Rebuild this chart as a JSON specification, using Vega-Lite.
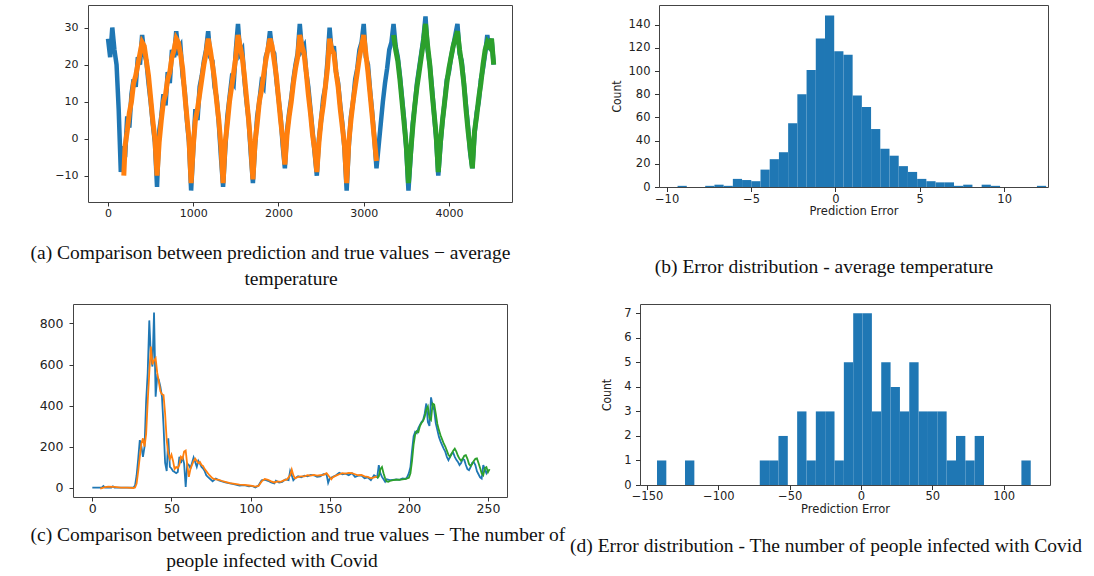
{
  "$schema": "https://vega.github.io/schema/vega-lite/v6.json",
  "background": "white",
  "padding": {"left": 28, "top": 4, "right": 0, "bottom": 0},
  "config": {
    "view": {"stroke": "#444", "strokeWidth": 1},
    "axis": {"grid": false, "domain": false, "tickColor": "#333", "tickSize": 4, "labelColor": "#222", "titleColor": "#222", "labelFont": "DejaVu Sans", "titleFont": "DejaVu Sans", "titleFontWeight": "normal", "labelFlush": false, "labelOverlap": false},
    "title": {"font": "Liberation Serif", "fontSize": 19.5, "fontWeight": "normal", "color": "#111"}
  },
  "datasets": {
    "a_true": [{"t":0,"v":27},{"t":25,"v":22},{"t":50,"v":30},{"t":75,"v":24},{"t":100,"v":20},{"t":125,"v":8},{"t":150,"v":-9},{"t":175,"v":-2},{"t":200,"v":-5},{"t":225,"v":6},{"t":250,"v":3},{"t":275,"v":12},{"t":300,"v":16},{"t":325,"v":14},{"t":350,"v":22},{"t":375,"v":20},{"t":400,"v":28},{"t":425,"v":23},{"t":450,"v":21},{"t":475,"v":15},{"t":500,"v":10},{"t":525,"v":4},{"t":550,"v":-1},{"t":575,"v":-13},{"t":600,"v":2},{"t":625,"v":6},{"t":650,"v":12},{"t":675,"v":9},{"t":700,"v":18},{"t":725,"v":15},{"t":750,"v":24},{"t":775,"v":22},{"t":800,"v":29},{"t":825,"v":24},{"t":850,"v":25},{"t":875,"v":17},{"t":900,"v":13},{"t":925,"v":5},{"t":950,"v":-1},{"t":975,"v":-14},{"t":1000,"v":-3},{"t":1025,"v":8},{"t":1050,"v":5},{"t":1075,"v":14},{"t":1100,"v":17},{"t":1125,"v":21},{"t":1150,"v":24},{"t":1175,"v":29},{"t":1200,"v":22},{"t":1225,"v":21},{"t":1250,"v":14},{"t":1275,"v":11},{"t":1300,"v":4},{"t":1325,"v":-5},{"t":1350,"v":-13},{"t":1375,"v":-3},{"t":1400,"v":6},{"t":1425,"v":11},{"t":1450,"v":16},{"t":1475,"v":15},{"t":1500,"v":24},{"t":1525,"v":31},{"t":1550,"v":23},{"t":1575,"v":24},{"t":1600,"v":16},{"t":1625,"v":10},{"t":1650,"v":5},{"t":1675,"v":-4},{"t":1700,"v":-12},{"t":1725,"v":-2},{"t":1750,"v":6},{"t":1775,"v":10},{"t":1800,"v":15},{"t":1825,"v":14},{"t":1850,"v":22},{"t":1875,"v":24},{"t":1900,"v":29},{"t":1925,"v":24},{"t":1950,"v":23},{"t":1975,"v":16},{"t":2000,"v":11},{"t":2025,"v":6},{"t":2050,"v":-2},{"t":2075,"v":-8},{"t":2100,"v":2},{"t":2125,"v":7},{"t":2150,"v":11},{"t":2175,"v":16},{"t":2200,"v":20},{"t":2225,"v":23},{"t":2250,"v":31},{"t":2275,"v":24},{"t":2300,"v":25},{"t":2325,"v":18},{"t":2350,"v":14},{"t":2375,"v":8},{"t":2400,"v":2},{"t":2425,"v":-4},{"t":2450,"v":-10},{"t":2475,"v":0},{"t":2500,"v":5},{"t":2525,"v":11},{"t":2550,"v":14},{"t":2575,"v":21},{"t":2600,"v":30},{"t":2625,"v":23},{"t":2650,"v":25},{"t":2675,"v":18},{"t":2700,"v":15},{"t":2725,"v":9},{"t":2750,"v":4},{"t":2775,"v":-3},{"t":2800,"v":-14},{"t":2825,"v":-2},{"t":2850,"v":6},{"t":2875,"v":10},{"t":2900,"v":16},{"t":2925,"v":19},{"t":2950,"v":24},{"t":2975,"v":26},{"t":3000,"v":31},{"t":3025,"v":22},{"t":3050,"v":20},{"t":3075,"v":13},{"t":3100,"v":7},{"t":3125,"v":0},{"t":3150,"v":-8},{"t":3175,"v":-2},{"t":3200,"v":4},{"t":3225,"v":10},{"t":3250,"v":15},{"t":3275,"v":19},{"t":3300,"v":24},{"t":3325,"v":26},{"t":3350,"v":31},{"t":3375,"v":25},{"t":3400,"v":22},{"t":3425,"v":17},{"t":3450,"v":11},{"t":3475,"v":5},{"t":3500,"v":-3},{"t":3525,"v":-14},{"t":3550,"v":-5},{"t":3575,"v":4},{"t":3600,"v":9},{"t":3625,"v":15},{"t":3650,"v":19},{"t":3675,"v":23},{"t":3700,"v":27},{"t":3725,"v":33},{"t":3750,"v":24},{"t":3775,"v":20},{"t":3800,"v":14},{"t":3825,"v":7},{"t":3850,"v":0},{"t":3875,"v":-10},{"t":3900,"v":-2},{"t":3925,"v":5},{"t":3950,"v":10},{"t":3975,"v":16},{"t":4000,"v":18},{"t":4025,"v":22},{"t":4050,"v":25},{"t":4075,"v":28},{"t":4100,"v":31},{"t":4125,"v":23},{"t":4150,"v":21},{"t":4175,"v":15},{"t":4200,"v":9},{"t":4225,"v":3},{"t":4250,"v":-4},{"t":4275,"v":-8},{"t":4300,"v":1},{"t":4325,"v":7},{"t":4350,"v":10},{"t":4375,"v":16},{"t":4400,"v":19},{"t":4425,"v":23},{"t":4450,"v":28},{"t":4475,"v":24},{"t":4500,"v":27},{"t":4525,"v":20}],
    "a_train": [{"t":185,"v":-10},{"t":200,"v":-2},{"t":225,"v":2},{"t":250,"v":7},{"t":275,"v":10},{"t":300,"v":15},{"t":325,"v":17},{"t":350,"v":20},{"t":375,"v":23},{"t":400,"v":26},{"t":425,"v":25},{"t":450,"v":21},{"t":475,"v":17},{"t":500,"v":11},{"t":525,"v":5},{"t":550,"v":0},{"t":575,"v":-10},{"t":600,"v":-1},{"t":625,"v":5},{"t":650,"v":10},{"t":675,"v":12},{"t":700,"v":16},{"t":725,"v":18},{"t":750,"v":22},{"t":775,"v":24},{"t":800,"v":27},{"t":825,"v":26},{"t":850,"v":23},{"t":875,"v":19},{"t":900,"v":12},{"t":925,"v":6},{"t":950,"v":0},{"t":975,"v":-12},{"t":1000,"v":-2},{"t":1025,"v":5},{"t":1050,"v":8},{"t":1075,"v":12},{"t":1100,"v":16},{"t":1125,"v":20},{"t":1150,"v":23},{"t":1175,"v":27},{"t":1200,"v":24},{"t":1225,"v":20},{"t":1250,"v":16},{"t":1275,"v":10},{"t":1300,"v":5},{"t":1325,"v":-2},{"t":1350,"v":-12},{"t":1375,"v":-1},{"t":1400,"v":4},{"t":1425,"v":10},{"t":1450,"v":14},{"t":1475,"v":18},{"t":1500,"v":22},{"t":1525,"v":28},{"t":1550,"v":25},{"t":1575,"v":22},{"t":1600,"v":17},{"t":1625,"v":11},{"t":1650,"v":5},{"t":1675,"v":-2},{"t":1700,"v":-11},{"t":1725,"v":-1},{"t":1750,"v":4},{"t":1775,"v":10},{"t":1800,"v":13},{"t":1825,"v":17},{"t":1850,"v":21},{"t":1875,"v":24},{"t":1900,"v":27},{"t":1925,"v":25},{"t":1950,"v":21},{"t":1975,"v":17},{"t":2000,"v":11},{"t":2025,"v":5},{"t":2050,"v":0},{"t":2075,"v":-7},{"t":2100,"v":1},{"t":2125,"v":6},{"t":2150,"v":10},{"t":2175,"v":15},{"t":2200,"v":19},{"t":2225,"v":22},{"t":2250,"v":28},{"t":2275,"v":25},{"t":2300,"v":23},{"t":2325,"v":18},{"t":2350,"v":12},{"t":2375,"v":7},{"t":2400,"v":1},{"t":2425,"v":-3},{"t":2450,"v":-9},{"t":2475,"v":-1},{"t":2500,"v":5},{"t":2525,"v":9},{"t":2550,"v":14},{"t":2575,"v":19},{"t":2600,"v":27},{"t":2625,"v":24},{"t":2650,"v":23},{"t":2675,"v":18},{"t":2700,"v":14},{"t":2725,"v":8},{"t":2750,"v":3},{"t":2775,"v":-2},{"t":2800,"v":-12},{"t":2825,"v":-1},{"t":2850,"v":5},{"t":2875,"v":10},{"t":2900,"v":14},{"t":2925,"v":18},{"t":2950,"v":22},{"t":2975,"v":25},{"t":3000,"v":28},{"t":3025,"v":23},{"t":3050,"v":18},{"t":3075,"v":12},{"t":3100,"v":6},{"t":3125,"v":0},{"t":3150,"v":-6}],
    "a_test": [{"t":3350,"v":28},{"t":3375,"v":24},{"t":3400,"v":21},{"t":3425,"v":16},{"t":3450,"v":10},{"t":3475,"v":4},{"t":3500,"v":-2},{"t":3525,"v":-12},{"t":3550,"v":-4},{"t":3575,"v":3},{"t":3600,"v":9},{"t":3625,"v":14},{"t":3650,"v":18},{"t":3675,"v":22},{"t":3700,"v":26},{"t":3725,"v":31},{"t":3750,"v":25},{"t":3775,"v":20},{"t":3800,"v":13},{"t":3825,"v":7},{"t":3850,"v":1},{"t":3875,"v":-9},{"t":3900,"v":-1},{"t":3925,"v":5},{"t":3950,"v":10},{"t":3975,"v":15},{"t":4000,"v":19},{"t":4025,"v":22},{"t":4050,"v":25},{"t":4075,"v":27},{"t":4100,"v":29},{"t":4125,"v":24},{"t":4150,"v":20},{"t":4175,"v":15},{"t":4200,"v":8},{"t":4225,"v":2},{"t":4250,"v":-3},{"t":4275,"v":-8},{"t":4300,"v":2},{"t":4325,"v":6},{"t":4350,"v":11},{"t":4375,"v":15},{"t":4400,"v":20},{"t":4425,"v":24},{"t":4450,"v":26},{"t":4475,"v":25},{"t":4500,"v":27},{"t":4525,"v":20}],
    "b_hist": [{"x0":-9.35,"x1":-8.804,"n":1},{"x0":-7.712,"x1":-7.166,"n":1},{"x0":-7.166,"x1":-6.62,"n":2},{"x0":-6.62,"x1":-6.074,"n":1},{"x0":-6.074,"x1":-5.528,"n":7},{"x0":-5.528,"x1":-4.982,"n":6},{"x0":-4.982,"x1":-4.436,"n":5},{"x0":-4.436,"x1":-3.89,"n":15},{"x0":-3.89,"x1":-3.344,"n":24},{"x0":-3.344,"x1":-2.798,"n":30},{"x0":-2.798,"x1":-2.252,"n":55},{"x0":-2.252,"x1":-1.706,"n":80},{"x0":-1.706,"x1":-1.16,"n":101},{"x0":-1.16,"x1":-0.614,"n":128},{"x0":-0.614,"x1":-0.068,"n":148},{"x0":-0.068,"x1":0.478,"n":117},{"x0":0.478,"x1":1.024,"n":114},{"x0":1.024,"x1":1.57,"n":79},{"x0":1.57,"x1":2.116,"n":69},{"x0":2.116,"x1":2.662,"n":50},{"x0":2.662,"x1":3.208,"n":33},{"x0":3.208,"x1":3.754,"n":27},{"x0":3.754,"x1":4.3,"n":18},{"x0":4.3,"x1":4.846,"n":13},{"x0":4.846,"x1":5.392,"n":7},{"x0":5.392,"x1":5.938,"n":5},{"x0":5.938,"x1":6.484,"n":4},{"x0":6.484,"x1":7.03,"n":4},{"x0":7.03,"x1":7.576,"n":1},{"x0":7.576,"x1":8.122,"n":2},{"x0":8.668,"x1":9.214,"n":2},{"x0":9.214,"x1":9.76,"n":1},{"x0":11.944,"x1":12.49,"n":1}],
    "c_true": [{"t":0,"v":0},{"t":3,"v":0},{"t":6,"v":0},{"t":7,"v":8},{"t":8,"v":0},{"t":12,"v":0},{"t":13,"v":6},{"t":14,"v":0},{"t":20,"v":0},{"t":26,"v":0},{"t":27,"v":10},{"t":28,"v":60},{"t":29,"v":140},{"t":30,"v":231},{"t":31,"v":200},{"t":32,"v":150},{"t":33,"v":200},{"t":34,"v":420},{"t":35,"v":560},{"t":36,"v":815},{"t":37,"v":640},{"t":38,"v":590},{"t":39,"v":854},{"t":40,"v":443},{"t":41,"v":540},{"t":42,"v":525},{"t":43,"v":492},{"t":44,"v":443},{"t":45,"v":300},{"t":46,"v":120},{"t":47,"v":81},{"t":48,"v":240},{"t":49,"v":101},{"t":50,"v":93},{"t":51,"v":80},{"t":52,"v":76},{"t":53,"v":70},{"t":54,"v":76},{"t":55,"v":150},{"t":56,"v":120},{"t":57,"v":150},{"t":58,"v":117},{"t":59,"v":3},{"t":60,"v":117},{"t":61,"v":110},{"t":62,"v":95},{"t":63,"v":120},{"t":64,"v":147},{"t":65,"v":125},{"t":66,"v":101},{"t":67,"v":130},{"t":68,"v":117},{"t":69,"v":100},{"t":70,"v":93},{"t":71,"v":80},{"t":72,"v":60},{"t":73,"v":52},{"t":74,"v":45},{"t":76,"v":31},{"t":78,"v":44},{"t":80,"v":35},{"t":82,"v":30},{"t":84,"v":25},{"t":87,"v":20},{"t":90,"v":15},{"t":93,"v":10},{"t":96,"v":12},{"t":99,"v":6},{"t":101,"v":8},{"t":103,"v":0},{"t":105,"v":10},{"t":107,"v":36},{"t":109,"v":39},{"t":111,"v":33},{"t":113,"v":25},{"t":115,"v":20},{"t":116,"v":33},{"t":118,"v":25},{"t":120,"v":28},{"t":122,"v":40},{"t":124,"v":36},{"t":125,"v":81},{"t":126,"v":60},{"t":127,"v":36},{"t":128,"v":45},{"t":130,"v":55},{"t":132,"v":50},{"t":134,"v":58},{"t":136,"v":55},{"t":138,"v":62},{"t":140,"v":60},{"t":142,"v":52},{"t":144,"v":55},{"t":146,"v":65},{"t":148,"v":65},{"t":149,"v":23},{"t":150,"v":45},{"t":152,"v":52},{"t":154,"v":60},{"t":156,"v":72},{"t":158,"v":65},{"t":160,"v":68},{"t":162,"v":60},{"t":164,"v":70},{"t":166,"v":52},{"t":168,"v":58},{"t":170,"v":60},{"t":172,"v":45},{"t":174,"v":50},{"t":176,"v":36},{"t":178,"v":60},{"t":180,"v":50},{"t":181,"v":109},{"t":182,"v":70},{"t":183,"v":52},{"t":184,"v":40},{"t":185,"v":28},{"t":186,"v":40},{"t":188,"v":36},{"t":190,"v":38},{"t":192,"v":40},{"t":194,"v":38},{"t":196,"v":45},{"t":198,"v":42},{"t":199,"v":52},{"t":200,"v":70},{"t":201,"v":101},{"t":202,"v":180},{"t":203,"v":250},{"t":204,"v":272},{"t":205,"v":265},{"t":206,"v":290},{"t":207,"v":305},{"t":208,"v":320},{"t":209,"v":329},{"t":210,"v":360},{"t":211,"v":410},{"t":212,"v":320},{"t":213,"v":300},{"t":214,"v":440},{"t":215,"v":400},{"t":216,"v":378},{"t":217,"v":313},{"t":218,"v":280},{"t":219,"v":247},{"t":220,"v":225},{"t":221,"v":207},{"t":222,"v":190},{"t":223,"v":175},{"t":224,"v":150},{"t":225,"v":134},{"t":226,"v":150},{"t":227,"v":165},{"t":228,"v":170},{"t":229,"v":150},{"t":230,"v":135},{"t":231,"v":125},{"t":232,"v":110},{"t":233,"v":120},{"t":234,"v":140},{"t":235,"v":135},{"t":236,"v":110},{"t":237,"v":90},{"t":238,"v":85},{"t":239,"v":100},{"t":240,"v":120},{"t":241,"v":125},{"t":242,"v":110},{"t":243,"v":80},{"t":244,"v":65},{"t":245,"v":50},{"t":246,"v":44},{"t":247,"v":109},{"t":248,"v":90},{"t":249,"v":70},{"t":250,"v":85}],
    "c_train": [{"t":5,"v":-5},{"t":8,"v":2},{"t":10,"v":5},{"t":14,"v":3},{"t":18,"v":0},{"t":22,"v":0},{"t":26,"v":-2},{"t":27,"v":0},{"t":28,"v":20},{"t":29,"v":80},{"t":30,"v":150},{"t":31,"v":215},{"t":32,"v":240},{"t":33,"v":200},{"t":34,"v":260},{"t":35,"v":420},{"t":36,"v":560},{"t":37,"v":687},{"t":38,"v":600},{"t":39,"v":620},{"t":40,"v":631},{"t":41,"v":560},{"t":42,"v":518},{"t":43,"v":470},{"t":44,"v":455},{"t":45,"v":451},{"t":46,"v":360},{"t":47,"v":230},{"t":48,"v":166},{"t":49,"v":140},{"t":50,"v":160},{"t":51,"v":130},{"t":52,"v":90},{"t":53,"v":100},{"t":54,"v":95},{"t":55,"v":110},{"t":56,"v":150},{"t":57,"v":140},{"t":58,"v":175},{"t":59,"v":180},{"t":60,"v":110},{"t":61,"v":52},{"t":62,"v":90},{"t":63,"v":110},{"t":64,"v":130},{"t":65,"v":141},{"t":66,"v":130},{"t":67,"v":120},{"t":68,"v":125},{"t":69,"v":110},{"t":70,"v":105},{"t":71,"v":90},{"t":72,"v":80},{"t":73,"v":70},{"t":74,"v":60},{"t":76,"v":45},{"t":78,"v":40},{"t":80,"v":38},{"t":82,"v":32},{"t":84,"v":28},{"t":87,"v":22},{"t":90,"v":18},{"t":93,"v":14},{"t":96,"v":13},{"t":99,"v":10},{"t":101,"v":8},{"t":103,"v":5},{"t":105,"v":8},{"t":107,"v":30},{"t":109,"v":42},{"t":111,"v":38},{"t":113,"v":30},{"t":115,"v":25},{"t":117,"v":30},{"t":119,"v":28},{"t":121,"v":35},{"t":123,"v":40},{"t":125,"v":60},{"t":126,"v":88},{"t":127,"v":60},{"t":128,"v":45},{"t":130,"v":52},{"t":132,"v":55},{"t":134,"v":55},{"t":136,"v":60},{"t":138,"v":58},{"t":140,"v":62},{"t":142,"v":58},{"t":144,"v":60},{"t":146,"v":62},{"t":148,"v":70},{"t":150,"v":50},{"t":151,"v":40},{"t":152,"v":50},{"t":154,"v":58},{"t":156,"v":65},{"t":158,"v":70},{"t":160,"v":68},{"t":162,"v":72},{"t":164,"v":70},{"t":166,"v":65},{"t":168,"v":60},{"t":170,"v":62},{"t":172,"v":55},{"t":174,"v":52},{"t":176,"v":45},{"t":178,"v":50},{"t":180,"v":55}],
    "c_test": [{"t":180,"v":45},{"t":181,"v":55},{"t":182,"v":90},{"t":183,"v":100},{"t":184,"v":70},{"t":185,"v":45},{"t":186,"v":30},{"t":187,"v":28},{"t":188,"v":32},{"t":190,"v":36},{"t":192,"v":38},{"t":194,"v":38},{"t":196,"v":40},{"t":198,"v":42},{"t":200,"v":48},{"t":201,"v":70},{"t":202,"v":130},{"t":203,"v":210},{"t":204,"v":260},{"t":205,"v":275},{"t":206,"v":270},{"t":207,"v":300},{"t":208,"v":315},{"t":209,"v":325},{"t":210,"v":345},{"t":211,"v":380},{"t":212,"v":395},{"t":213,"v":340},{"t":214,"v":330},{"t":215,"v":410},{"t":216,"v":405},{"t":217,"v":360},{"t":218,"v":310},{"t":219,"v":280},{"t":220,"v":255},{"t":221,"v":235},{"t":222,"v":215},{"t":223,"v":200},{"t":224,"v":180},{"t":225,"v":160},{"t":226,"v":150},{"t":227,"v":165},{"t":228,"v":180},{"t":229,"v":190},{"t":230,"v":175},{"t":231,"v":155},{"t":232,"v":140},{"t":233,"v":130},{"t":234,"v":140},{"t":235,"v":155},{"t":236,"v":158},{"t":237,"v":140},{"t":238,"v":115},{"t":239,"v":105},{"t":240,"v":115},{"t":241,"v":130},{"t":242,"v":140},{"t":243,"v":142},{"t":244,"v":120},{"t":245,"v":95},{"t":246,"v":70},{"t":247,"v":60},{"t":248,"v":95},{"t":249,"v":100},{"t":250,"v":75},{"t":251,"v":90}],
    "d_hist": [{"x0":-143,"x1":-136.45,"n":1},{"x0":-123.35,"x1":-116.8,"n":1},{"x0":-70.95,"x1":-64.4,"n":1},{"x0":-64.4,"x1":-57.85,"n":1},{"x0":-57.85,"x1":-51.3,"n":2},{"x0":-44.75,"x1":-38.2,"n":3},{"x0":-38.2,"x1":-31.65,"n":1},{"x0":-31.65,"x1":-25.1,"n":3},{"x0":-25.1,"x1":-18.55,"n":3},{"x0":-18.55,"x1":-12,"n":1},{"x0":-12,"x1":-5.45,"n":5},{"x0":-5.45,"x1":1.1,"n":7},{"x0":1.1,"x1":7.65,"n":7},{"x0":7.65,"x1":14.2,"n":3},{"x0":14.2,"x1":20.75,"n":5},{"x0":20.75,"x1":27.3,"n":4},{"x0":27.3,"x1":33.85,"n":3},{"x0":33.85,"x1":40.4,"n":5},{"x0":40.4,"x1":46.95,"n":3},{"x0":46.95,"x1":53.5,"n":3},{"x0":53.5,"x1":60.05,"n":3},{"x0":60.05,"x1":66.6,"n":1},{"x0":66.6,"x1":73.15,"n":2},{"x0":73.15,"x1":79.7,"n":1},{"x0":79.7,"x1":86.25,"n":2},{"x0":112.45,"x1":119,"n":1}]
  },
  "concat": [
    {"width": 1, "height": 1, "view": {"stroke": null}, "data": {"values": []}, "mark": "point"},
    {
      "hconcat": [
        {
          "width": 424, "height": 197,
          "title": {"text": "temperature", "orient": "bottom", "anchor": "middle", "frame": "group", "dx": -9, "offset": 23, "baseline": "alphabetic"},
          "encoding": {
            "x": {"field": "t", "type": "quantitative", "scale": {"domain": [-235, 4740], "nice": false, "zero": false},
              "axis": {"values": [0, 1000, 2000, 3000, 4000], "format": "d", "labelFontSize": 11, "labelPadding": 1,
                "title": "(a) Comparison between prediction and true values − average",
                "titleX": -58, "titleY": 56, "titleAlign": "left", "titleBaseline": "alphabetic", "titleFont": "Liberation Serif", "titleFontSize": 19.5, "titleColor": "#111"}},
            "y": {"field": "v", "type": "quantitative", "scale": {"domain": [-17.1, 36.1], "nice": false, "zero": false},
              "axis": {"values": [-10, 0, 10, 20, 30], "format": "d", "title": null, "labelFontSize": 11, "labelPadding": 6}}
          },
          "layer": [
            {"data": {"name": "a_true"}, "mark": {"type": "line", "color": "#1f77b4", "strokeWidth": 4.5, "clip": true}, "encoding": {}},
            {"data": {"name": "a_train"}, "mark": {"type": "line", "color": "#ff7f0e", "strokeWidth": 5, "clip": true}, "encoding": {}},
            {"data": {"name": "a_test"}, "mark": {"type": "line", "color": "#2ca02c", "strokeWidth": 5, "clip": true}, "encoding": {}}
          ]
        },
        {
          "width": 389, "height": 182,
          "title": {"text": "(b) Error distribution - average temperature", "orient": "bottom", "anchor": "middle", "frame": "group", "dx": -29.5, "offset": 56, "baseline": "alphabetic"},
          "data": {"name": "b_hist"},
          "mark": {"type": "bar", "color": "#1f77b4", "clip": true},
          "encoding": {
            "x": {"field": "x0", "type": "quantitative", "scale": {"domain": [-10.45, 12.6], "nice": false, "zero": false},
              "axis": {"values": [-10, -5, 0, 5, 10], "title": "Prediction Error", "labelFontSize": 11.5, "titleFontSize": 11.5, "tickSize": 4.5, "labelPadding": 1.5, "titlePadding": 1}},
            "x2": {"field": "x1"},
            "y": {"field": "n", "type": "quantitative", "scale": {"domain": [0, 157], "nice": false},
              "axis": {"values": [0, 20, 40, 60, 80, 100, 120, 140], "title": "Count", "titleFont": "Liberation Sans Narrow, DejaVu Sans Condensed, sans-serif", "titleFontSize": 12, "titlePadding": 5, "labelFontSize": 11.5, "tickSize": 4.5, "labelPadding": 4.5}},
            "y2": {"datum": 0}
          }
        }
      ],
      "spacing": 147,
      "bounds": "flush"
    },
    {"width": 1, "height": 1, "view": {"stroke": null}, "data": {"values": []}, "mark": "point"},
    {
      "hconcat": [
        {
          "width": 434, "height": 193,
          "title": {"text": "people infected with Covid", "orient": "bottom", "anchor": "middle", "frame": "group", "dx": -18, "offset": 23, "baseline": "alphabetic"},
          "encoding": {
            "x": {"field": "t", "type": "quantitative", "scale": {"domain": [-12.2, 262], "nice": false, "zero": false},
              "axis": {"values": [0, 50, 100, 150, 200, 250], "labelFontSize": 12.5, "labelPadding": 1,
                "title": "(c) Comparison between prediction and true values − The number of",
                "titleX": -43, "titleY": 43, "titleAlign": "left", "titleBaseline": "alphabetic", "titleFont": "Liberation Serif", "titleFontSize": 19.5, "titleColor": "#111"}},
            "y": {"field": "v", "type": "quantitative", "scale": {"domain": [-46, 895], "nice": false, "zero": false},
              "axis": {"values": [0, 200, 400, 600, 800], "title": null, "labelFontSize": 12.5, "labelPadding": 6}}
          },
          "layer": [
            {"data": {"name": "c_true"}, "mark": {"type": "line", "color": "#1f77b4", "strokeWidth": 1.8, "clip": true}, "encoding": {}},
            {"data": {"name": "c_train"}, "mark": {"type": "line", "color": "#ff7f0e", "strokeWidth": 1.8, "clip": true}, "encoding": {}},
            {"data": {"name": "c_test"}, "mark": {"type": "line", "color": "#2ca02c", "strokeWidth": 1.8, "clip": true}, "encoding": {}}
          ]
        },
        {
          "width": 410, "height": 181,
          "title": {"text": "(d) Error distribution - The number of people infected with Covid", "orient": "bottom", "anchor": "middle", "frame": "group", "dx": -19, "offset": 37, "baseline": "alphabetic"},
          "data": {"name": "d_hist"},
          "mark": {"type": "bar", "color": "#1f77b4", "clip": true},
          "encoding": {
            "x": {"field": "x0", "type": "quantitative", "scale": {"domain": [-154.9, 132.5], "nice": false, "zero": false},
              "axis": {"values": [-150, -100, -50, 0, 50, 100], "title": "Prediction Error", "labelFontSize": 11.5, "titleFontSize": 11.5, "tickSize": 4.5, "labelPadding": 1, "titlePadding": 1}},
            "x2": {"field": "x1"},
            "y": {"field": "n", "type": "quantitative", "scale": {"domain": [0, 7.38], "nice": false},
              "axis": {"values": [0, 1, 2, 3, 4, 5, 6, 7], "title": "Count", "titleFont": "Liberation Sans Narrow, DejaVu Sans Condensed, sans-serif", "titleFontSize": 12, "titlePadding": 10, "labelFontSize": 11.5, "tickSize": 4.5, "labelPadding": 4.5}},
            "y2": {"datum": 0}
          }
        }
      ],
      "spacing": 133,
      "bounds": "flush"
    }
  ],
  "columns": 2,
  "align": "none",
  "spacing": {"row": 14, "column": 0}
}
